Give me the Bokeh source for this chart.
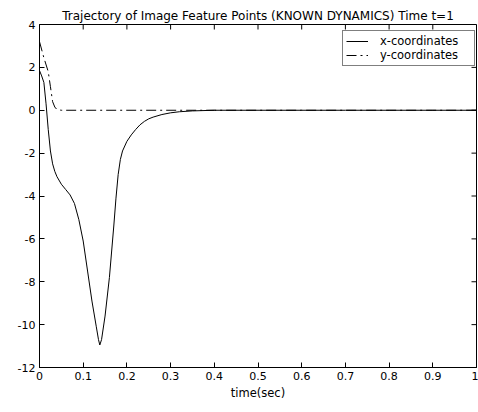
from bokeh.plotting import figure
from bokeh.models import FixedTicker, Legend, LegendItem, Range1d
from bokeh.embed import file_html
from bokeh.resources import INLINE

# ---- data ----
t_x = [0.0, 0.005, 0.01, 0.015, 0.02, 0.025, 0.03, 0.035, 0.04, 0.05, 0.06, 0.07,
       0.08, 0.09, 0.10, 0.11, 0.12, 0.13, 0.135, 0.138, 0.142, 0.15, 0.16, 0.17,
       0.175, 0.18, 0.185, 0.19, 0.20, 0.21, 0.22, 0.23, 0.24, 0.25, 0.26, 0.28,
       0.30, 0.32, 0.35, 0.40, 0.50, 0.60, 0.70, 0.80, 0.90, 1.0]
x_coord = [1.85, 1.6, 1.3, 0.3, -0.9, -1.9, -2.5, -2.85, -3.1, -3.45, -3.7, -3.95,
           -4.35, -5.1, -6.1, -7.5, -8.9, -10.1, -10.7, -10.95, -10.7, -9.6, -7.8, -5.4,
           -4.1, -3.0, -2.3, -1.9, -1.45, -1.15, -0.9, -0.68, -0.52, -0.4, -0.32, -0.2,
           -0.12, -0.07, -0.03, 0.0, 0.0, 0.0, 0.0, 0.0, 0.0, 0.0]

t_y = [0.0, 0.01, 0.02, 0.025, 0.03, 0.035, 0.04, 0.05, 0.2, 0.4, 0.6, 0.8, 1.0]
y_coord = [3.2, 2.45, 1.8, 1.1, 0.4, 0.15, 0.03, 0.0, 0.0, 0.0, 0.0, 0.0, 0.0]

x_ticks = [0, 0.1, 0.2, 0.3, 0.4, 0.5, 0.6, 0.7, 0.8, 0.9, 1]
x_tick_labels = ["0", "0.1", "0.2", "0.3", "0.4", "0.5", "0.6", "0.7", "0.8", "0.9", "1"]
y_ticks = [-12, -10, -8, -6, -4, -2, 0, 2, 4]
y_tick_labels = ["-12", "-10", "-8", "-6", "-4", "-2", "0", "2", "4"]

title_text = "Trajectory of Image Feature Points (KNOWN DYNAMICS) Time t=1"
x_label = "time(sec)"
series_names = ["x-coordinates", "y-coordinates"]

FONT = "DejaVu Sans"
X0, X1, Y0, Y1 = 0, 1, -12, 4

W, H = 478, 412
ML, MR, MT, MB = 39, 2, 24, 45
FW, FH = W - ML - MR, H - MT - MB

p = figure(width=W, height=H, output_backend="svg", toolbar_location=None,
           x_range=Range1d(X0, X1), y_range=Range1d(Y0, Y1),
           min_border_left=ML, min_border_right=MR, min_border_top=MT, min_border_bottom=MB)
p.background_fill_color = "white"
p.border_fill_color = "white"
p.outline_line_color = "black"
p.grid.visible = False

p.title.text = title_text
p.title.align = "center"
p.title.text_font = FONT
p.title.text_font_size = "12px"
p.title.text_font_style = "normal"
p.title.text_color = "black"
p.title.standoff = 4

for ax, ticks, labels in ((p.xaxis[0], x_ticks, x_tick_labels), (p.yaxis[0], y_ticks, y_tick_labels)):
    ax.ticker = FixedTicker(ticks=ticks)
    ax.major_label_overrides = dict(zip(ticks, labels))
    ax.major_tick_in = 5
    ax.major_tick_out = 0
    ax.minor_tick_line_color = None
    ax.axis_line_color = "black"
    ax.major_tick_line_color = "black"
    ax.major_label_text_font = FONT
    ax.major_label_text_font_size = "11px"
    ax.major_label_text_color = "black"
    ax.major_label_standoff = 4

p.xaxis[0].axis_label = x_label
p.xaxis[0].axis_label_text_font = FONT
p.xaxis[0].axis_label_text_font_size = "11.5px"
p.xaxis[0].axis_label_text_font_style = "normal"
p.xaxis[0].axis_label_text_color = "black"
p.xaxis[0].axis_label_standoff = 3

# mirrored inward ticks on the top and right borders (5 px long)
dy = 5.0 / FH * (Y1 - Y0)
dx = 5.0 / FW * (X1 - X0)
p.segment(x0=x_ticks, y0=[Y1] * len(x_ticks), x1=x_ticks, y1=[Y1 - dy] * len(x_ticks),
          line_color="black", line_width=1)
p.segment(x0=[X1] * len(y_ticks), y0=y_ticks, x1=[X1 - dx] * len(y_ticks), y1=y_ticks,
          line_color="black", line_width=1)

r1 = p.line(t_x, x_coord, line_color="black", line_width=1)
r2 = p.line(t_y, y_coord, line_color="black", line_width=1, line_dash="10 4 2 4")

legend = Legend(items=[LegendItem(label=series_names[0], renderers=[r1]),
                       LegendItem(label=series_names[1], renderers=[r2])],
                location=(303, 301))
legend.margin = 0
legend.padding = 3
legend.spacing = 0
legend.glyph_width = 22
legend.glyph_height = 14
legend.label_standoff = 12
legend.label_width = 91
legend.label_height = 14
legend.label_text_font = FONT
legend.label_text_font_size = "11.5px"
legend.label_text_color = "black"
legend.border_line_color = "black"
legend.border_line_width = 1
legend.background_fill_color = "white"
legend.background_fill_alpha = 1
p.add_layout(legend)

open("out.html", "w").write(file_html(p, INLINE))
